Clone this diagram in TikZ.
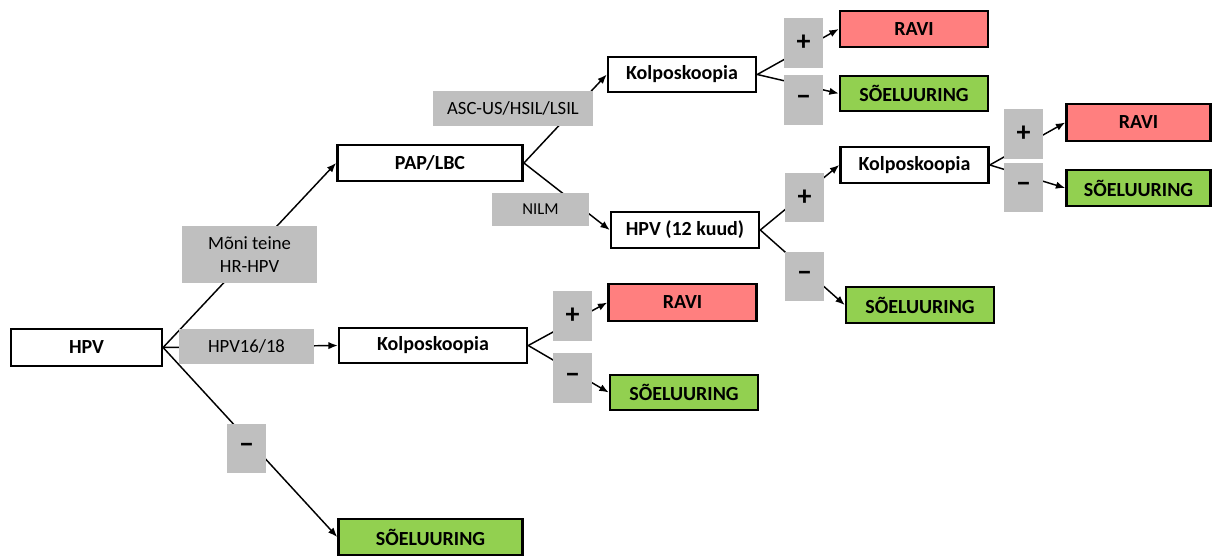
\documentclass[tikz,border=0pt]{standalone}
\usepackage{fontspec}
\setmainfont{Carlito}
\usepackage{tikz}
\usetikzlibrary{arrows.meta}

\definecolor{ravired}{RGB}{255,127,127}
\definecolor{okgreen}{RGB}{146,208,80}
\definecolor{lblgray}{RGB}{191,191,191}

\begin{document}
\begin{tikzpicture}[x=0.75pt, y=-0.75pt,
  box/.style={draw, line width=1.9pt, inner sep=0pt, fill=white,
              font=\bfseries\fontsize{15}{18}\selectfont},
  ravi/.style={box, fill=ravired},
  soel/.style={box, fill=okgreen},
  lbl/.style={fill=lblgray, inner sep=0pt, align=center,
              font=\fontsize{14}{17}\selectfont},
  sign/.style={lbl, minimum width=29pt, minimum height=37pt,
               font=\bfseries\fontsize{21}{24}\selectfont},
  link/.style={line width=1.1pt, -{Latex[length=7pt,width=5.5pt]}},
  ]
  \useasboundingbox (0,0) rectangle (1213,556);

  % ---- result boxes (pixel coordinates of centres) ------------
  \node[box, minimum width=113pt, minimum height=28pt] (hpv)   at (86.5,347.5) {HPV};
  \node[box, minimum width=139pt, minimum height=27pt] (pap)   at (430,163)    {PAP/LBC};
  \node[box, minimum width=111pt, minimum height=26pt] (kolpA) at (682,74.5)   {Kolposkoopia};
  \node[box, minimum width=111pt, minimum height=27pt] (hpvK)  at (685,230)    {HPV (12 kuud)};
  \node[box, minimum width=141pt, minimum height=26pt] (kolpB) at (433,345.5)  {Kolposkoopia};
  \node[box, minimum width=111pt, minimum height=27pt] (kolpC) at (914.5,165)  {Kolposkoopia};

  \node[ravi, minimum width=111pt, minimum height=27pt] (raviA) at (914,29)     {RAVI};
  \node[soel, minimum width=111pt, minimum height=26pt] (soelA) at (914,93.5)   {SÕELUURING};
  \node[ravi, minimum width=111pt, minimum height=28pt] (raviB) at (682.5,302.5){RAVI};
  \node[soel, minimum width=111pt, minimum height=26pt] (soelB) at (684,392.5)  {SÕELUURING};
  \node[ravi, minimum width=108pt, minimum height=28pt] (raviC) at (1138.5,122.5){RAVI};
  \node[soel, minimum width=108pt, minimum height=27pt] (soelC) at (1138.5,188) {SÕELUURING};
  \node[soel, minimum width=111pt, minimum height=27pt] (soelD) at (920,305)    {SÕELUURING};
  \node[soel, minimum width=138pt, minimum height=27pt] (soelE) at (430.5,537)  {SÕELUURING};

  % ---- connectors -----------------------------------------------
  \draw[link] (hpv.east) -- (pap.west);
  \draw[link] (hpv.east) -- (kolpB.west);
  \draw[link] (hpv.east) -- (soelE.west);
  \draw[link] (pap.east) -- (kolpA.west);
  \draw[link] (pap.east) -- (hpvK.west);
  \draw[link] (kolpA.east) -- (raviA.west);
  \draw[link] (kolpA.east) -- (soelA.west);
  \draw[link] (kolpB.east) -- (raviB.west);
  \draw[link] (kolpB.east) -- (soelB.west);
  \draw[link] (hpvK.east) -- (kolpC.west);
  \draw[link] (hpvK.east) -- (soelD.west);
  \draw[link] (kolpC.east) -- (raviC.west);
  \draw[link] (kolpC.east) -- (soelC.west);

  % ---- gray labels on top of the connectors ---------------------
  \node[lbl, minimum width=101pt, minimum height=43pt] (lOther) at (249.5,254.5) {Mõni teine\\HR-HPV};
  \node[lbl, minimum width=101pt, minimum height=26pt] (l1618)  at (246.5,346.5) {HPV16/18};
  \node[lbl, minimum width=120pt, minimum height=26pt] (lAsc)   at (513,108.5)   {ASC-US/HSIL/LSIL};
  \node[lbl, minimum width=73pt, minimum height=25pt,
        font=\fontsize{12.5}{15}\selectfont]           (lNilm)  at (540.5,209.5) {NILM};

  \node[sign] (mE) at (246.5,448.5) {−};
  \node[sign] (pA) at (803.5,43)    {+};
  \node[sign] (mA) at (803.5,100)   {−};
  \node[sign] (pB) at (572.5,316)   {+};
  \node[sign] (mB) at (572.5,378)   {−};
  \node[sign] (pK) at (804.5,197.5) {+};
  \node[sign] (mK) at (804.5,276.5) {−};
  \node[sign] (pC) at (1023.5,134)  {+};
  \node[sign] (mC) at (1023.5,187.5){−};

\end{tikzpicture}
\end{document}
